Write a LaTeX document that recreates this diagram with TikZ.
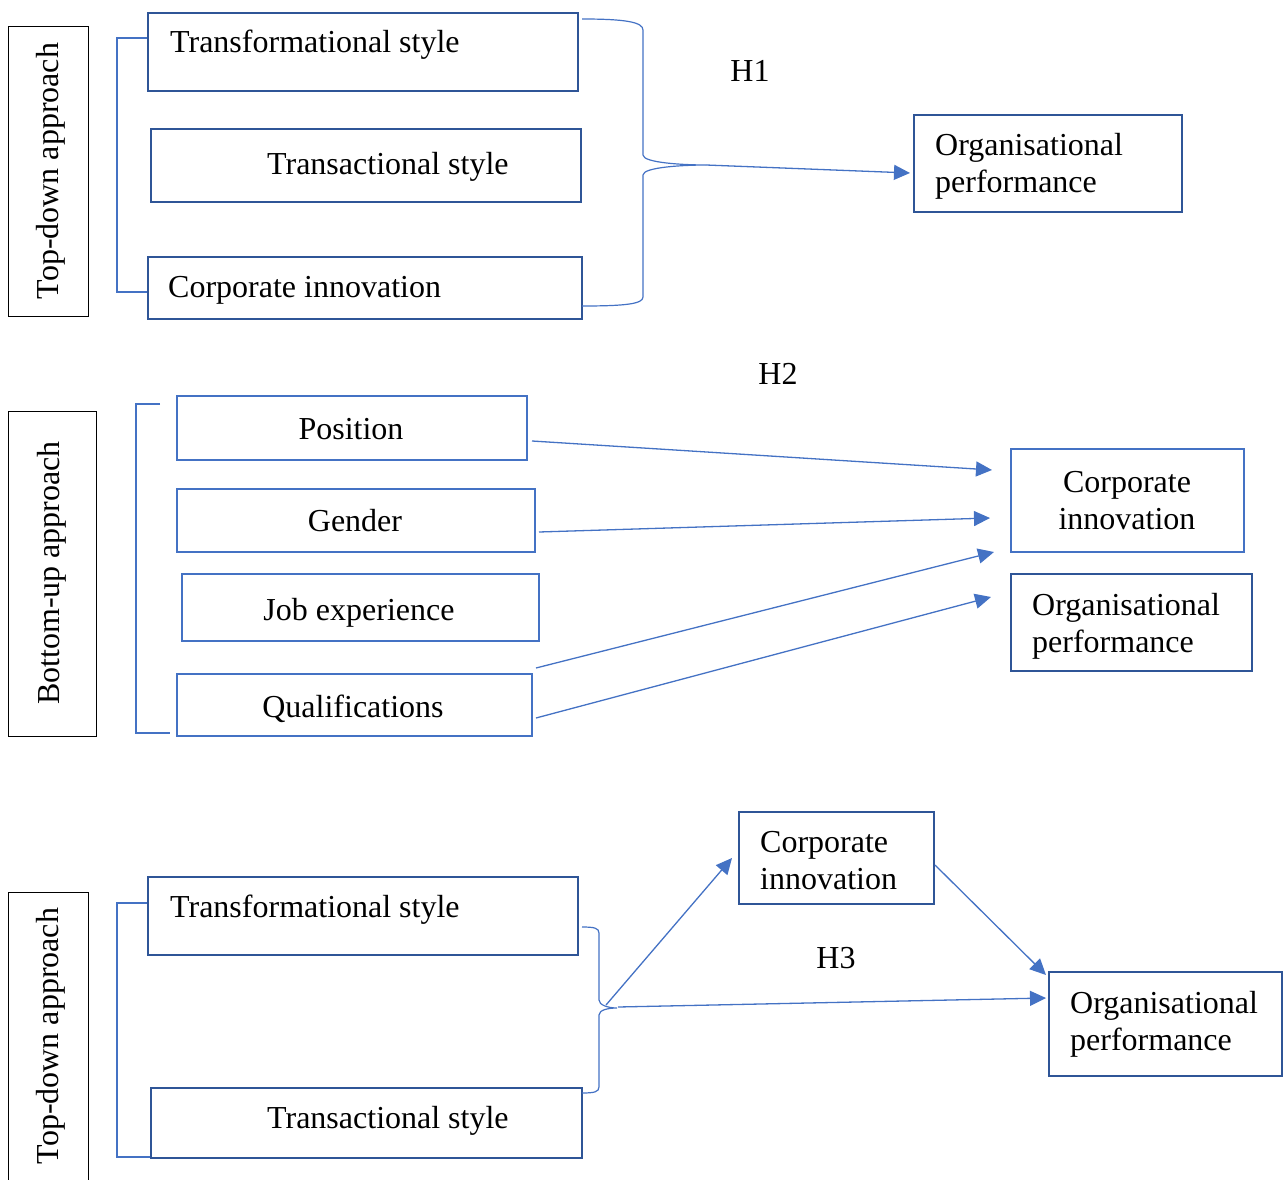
\documentclass[tikz,border=0pt]{standalone}
\usepackage{fontspec}
\setmainfont{Liberation Serif}
\usetikzlibrary{arrows.meta}
\definecolor{boxdark}{HTML}{2F5597}
\definecolor{boxlight}{HTML}{4472C4}
\definecolor{linkblue}{HTML}{4472C4}

\begin{document}
\begin{tikzpicture}[x=1pt,y=-1pt,
  lbl/.style={font=\fontsize{32}{37}\selectfont, inner sep=0pt},
  darkbox/.style={draw=boxdark, line width=2.2pt, inner sep=0pt, anchor=north west},
  lightbox/.style={draw=boxlight, line width=2.2pt, inner sep=0pt, anchor=north west},
  sidebox/.style={draw=black, line width=1.3pt, inner sep=0pt, anchor=north west},
  link/.style={draw=linkblue, line width=1.3pt, -{Triangle[length=16pt,width=15pt]}},
  bracket/.style={draw=linkblue, line width=1.2pt},
]
\useasboundingbox (0,0) rectangle (1283,1180);
\clip (0,0) rectangle (1283,1180);

% ---------- first block: top-down approach, H1 ----------
\node[sidebox, minimum width=80pt, minimum height=290pt] (sd1) at (8,26) {};
\node[lbl, rotate=90, anchor=base] (sd1t) at (58,171) {Top-down approach};

\node[darkbox, minimum width=430pt, minimum height=78pt] (tf1) at (147,12) {};
\node[lbl, anchor=base west] (tf1t) at (170,53) {Transformational style};
\node[darkbox, minimum width=430pt, minimum height=73pt] (ts1) at (150,128) {};
\node[lbl, anchor=base west] (ts1t) at (267,175) {Transactional style};
\node[darkbox, minimum width=434pt, minimum height=62pt] (ci1) at (147,256) {};
\node[lbl, anchor=base west] (ci1t) at (168,297) {Corporate innovation};
\node[darkbox, minimum width=268pt, minimum height=97pt] (op1) at (913,114) {};
\node[lbl, anchor=north west, align=left] (op1t) at (935,133) {Organisational\\performance};
\node[lbl, anchor=base] (h1) at (750,82) {H1};

\draw[bracket] (147,38) -- (117,38) -- (117,292) -- (147,292);
\coordinate (b1tip) at (706,165);
\draw[bracket] (582,19) .. controls (625,19) and (643,22) .. (643,30) -- (643,155)
  .. controls (643,163) and (685,165) .. (b1tip)
  .. controls (685,165) and (643,167) .. (643,175) -- (643,297)
  .. controls (643,304) and (625,306) .. (582,306);
\coordinate (a1e) at (910,173);
\draw[link] (b1tip) -- (a1e);

% ---------- second block: bottom-up approach, H2 ----------
\node[sidebox, minimum width=88pt, minimum height=325pt] (sd2) at (8,411) {};
\node[lbl, rotate=90, anchor=base] (sd2t) at (59,573) {Bottom-up approach};

\node[lightbox, minimum width=350pt, minimum height=64pt] (pos) at (176,395) {};
\node[lbl, anchor=base] (post) at (351,439) {Position};
\node[lightbox, minimum width=358pt, minimum height=63pt] (gen) at (176,488) {};
\node[lbl, anchor=base] (gent) at (355,531) {Gender};
\node[lightbox, minimum width=357pt, minimum height=67pt] (job) at (181,573) {};
\node[lbl, anchor=base] (jobt) at (359,620) {Job experience};
\node[lightbox, minimum width=355pt, minimum height=62pt] (qual) at (176,673) {};
\node[lbl, anchor=base] (qualt) at (353,717) {Qualifications};

\node[lightbox, minimum width=233pt, minimum height=103pt] (ci2) at (1010,448) {};
\node[lbl, anchor=north, align=center] (ci2t) at (1127,471) {Corporate\\innovation};
\node[darkbox, minimum width=241pt, minimum height=97pt] (op2) at (1010,573) {};
\node[lbl, anchor=north west, align=left] (op2t) at (1032,593) {Organisational\\performance};
\node[lbl, anchor=base] (h2) at (778,384) {H2};

\draw[bracket] (160,404) -- (136,404) -- (136,733) -- (170,733);

\coordinate (p2s) at (532,441);  \coordinate (p2e) at (992,470);
\coordinate (g2s) at (539,532);  \coordinate (g2e) at (990,518);
\coordinate (q2s) at (536,668);  \coordinate (q2e) at (994,552);
\coordinate (q3s) at (536,718);  \coordinate (q3e) at (991,597);
\draw[link] (p2s) -- (p2e);
\draw[link] (g2s) -- (g2e);
\draw[link] (q2s) -- (q2e);
\draw[link] (q3s) -- (q3e);

% ---------- third block: top-down approach, H3 ----------
\node[sidebox, minimum width=80pt, minimum height=292pt] (sd3) at (8,892) {};
\node[lbl, rotate=90, anchor=base] (sd3t) at (58,1036) {Top-down approach};

\node[darkbox, minimum width=430pt, minimum height=78pt] (tf3) at (147,876) {};
\node[lbl, anchor=base west] (tf3t) at (170,917) {Transformational style};
\node[darkbox, minimum width=431pt, minimum height=70pt] (ts3) at (150,1087) {};
\node[lbl, anchor=base west] (ts3t) at (267,1128) {Transactional style};

\node[darkbox, minimum width=195pt, minimum height=92pt] (ci3) at (738,811) {};
\node[lbl, anchor=north west, align=left] (ci3t) at (760,831) {Corporate\\innovation};
\node[darkbox, minimum width=233pt, minimum height=104pt] (op3) at (1048,971) {};
\node[lbl, anchor=north west, align=left] (op3t) at (1070,991) {Organisational\\performance};
\node[lbl, anchor=base] (h3) at (836,968) {H3};

\draw[bracket] (147,903) -- (117,903) -- (117,1157) -- (150,1157);
\coordinate (b3tip) at (617,1008);
\draw[bracket] (582,927) .. controls (594,927) and (599,928) .. (599,933) -- (599,1000)
  .. controls (599,1005) and (608,1008) .. (b3tip)
  .. controls (608,1008) and (599,1010) .. (599,1015) -- (599,1087)
  .. controls (599,1092) and (594,1093) .. (582,1093);

\coordinate (c3s) at (606,1005); \coordinate (c3e) at (732,858);
\coordinate (o3s) at (618,1007); \coordinate (o3e) at (1046,998);
\coordinate (co3s) at (935,865); \coordinate (co3e) at (1046,975);
\draw[link] (c3s) -- (c3e);
\draw[link] (o3s) -- (o3e);
\draw[link] (co3s) -- (co3e);
\end{tikzpicture}
\end{document}
